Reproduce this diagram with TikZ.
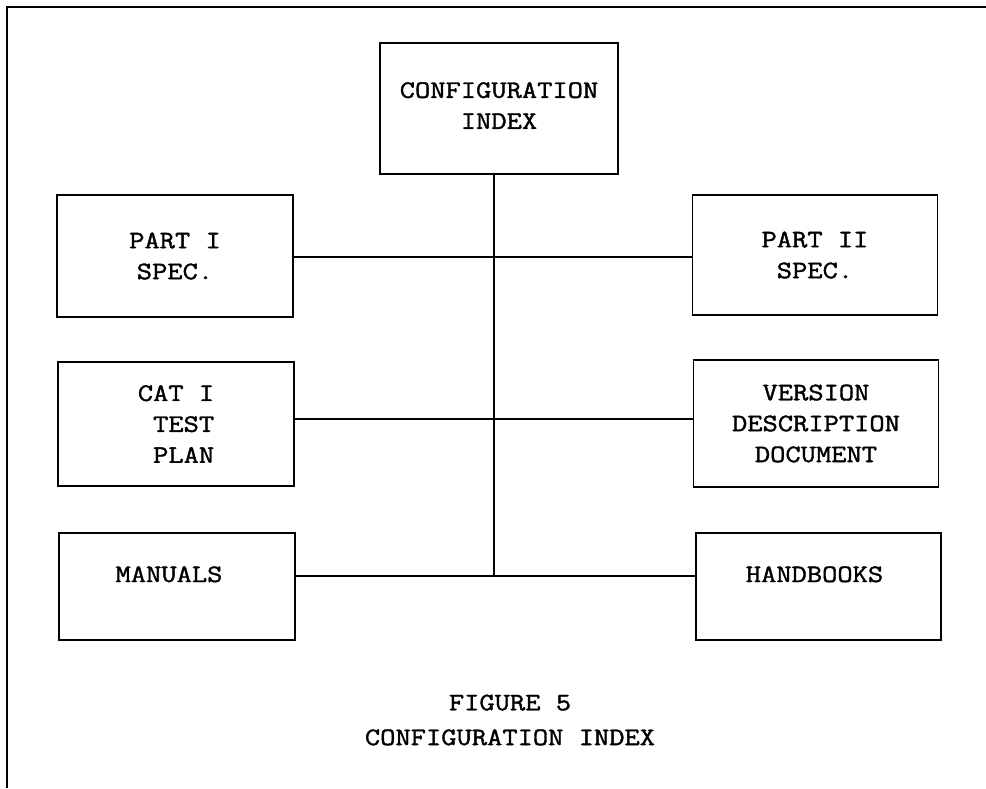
\documentclass[tikz,border=0pt]{standalone}
\usepackage{fontspec}
\setmonofont{Latin Modern Mono}[FakeStretch=1.18, FakeBold=1.5]
\tikzset{
  docbox/.style={draw, line width=0.9pt, inner sep=0pt, align=center,
    font=\ttfamily\fontsize{14.3}{17.6}\selectfont},
  leftbox/.style={docbox, minimum width=4.72cm},
  rightbox/.style={docbox, minimum width=4.9cm},
  lowrow/.style={minimum height=2.14cm, text height=0.3cm, text depth=0.48cm},
  link/.style={line width=0.8pt},
}

\begin{document}
\begin{tikzpicture}[x=0.02cm, y=-0.02cm]
    \useasboundingbox (0,0) rectangle (986,788);

    % Page frame (top and left edge only)
    \draw[line width=0.8pt] (7,788) -- (7,7) -- (986,7);

    % Top box
    \node[docbox, minimum width=4.76cm, minimum height=2.62cm, text depth=0.12cm] (cfg) at (499,108.5) {CONFIGURATION\\INDEX\hspace{0.12cm}};

    % Left column
    \node[leftbox, minimum height=2.44cm] (partone) at (175,256) {PART I\\SPEC.};
    \node[leftbox, minimum height=2.48cm, align=right] (catone) at (176,424) {CAT I\\TEST\\PLAN};
    \node[leftbox, lowrow] (manuals) at (177,586.5) {MANUALS\hspace{0.32cm}};

    % Right column
    \node[rightbox, minimum height=2.4cm] (parttwo) at (815,255) {PART II\\SPEC.};
    \node[rightbox, minimum height=2.54cm] (vdd) at (816,423.5) {VERSION\\DESCRIPTION\\DOCUMENT};
    \node[rightbox, lowrow] (handbooks) at (818.5,586.5) {HANDBOOKS\hspace{0.16cm}};

    % Spine and branches
    \coordinate (jone) at (494,257);
    \coordinate (jtwo) at (494,419);
    \coordinate (hub) at (494,576);
    \draw[link] (cfg.south -| hub) -- (hub);
    \draw[link] (partone.east |- jone) -- (parttwo.west |- jone);
    \draw[link] (catone.east |- jtwo) -- (vdd.west |- jtwo);
    \draw[link] (manuals.east |- hub) -- (handbooks.west |- hub);

    % Caption
    \node[align=center, font=\ttfamily\fontsize{14.3}{19.8}\selectfont] (caption) at (510,720) {FIGURE 5\\CONFIGURATION INDEX};

\end{tikzpicture}
\end{document}
